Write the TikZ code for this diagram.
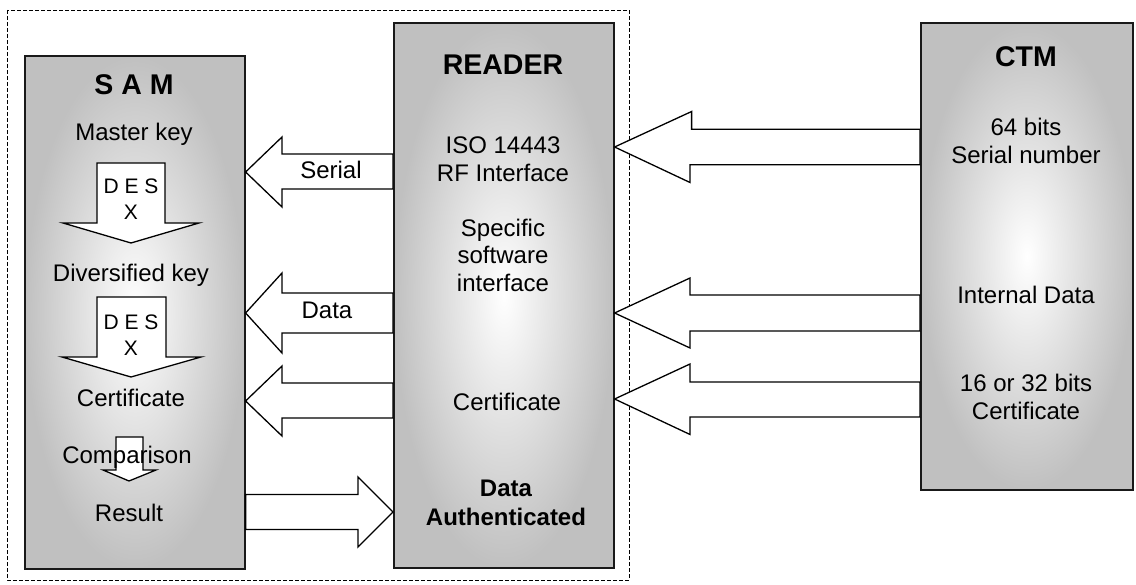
\documentclass[tikz,border=0pt]{standalone}
\usepackage{fontspec}
\setmainfont{Liberation Sans}
\usetikzlibrary{calc}
\definecolor{boxgray}{RGB}{192,192,192}
\tikzset{
  unit/.style={rectangle, draw=black!90, line width=1.6pt, inner color=white, outer color=boxgray, anchor=north west},
  ttl/.style={font=\fontsize{28.5}{32}\selectfont\bfseries, align=center, inner sep=0pt},
  txt/.style={font=\fontsize{24}{27.5}\selectfont, align=center, inner sep=0pt},
  dtxt/.style={font=\fontsize{21}{26}\selectfont, align=center, inner sep=0pt},
  btxt/.style={font=\fontsize{24}{29}\selectfont\bfseries, align=center, inner sep=0pt},
  blk/.style={draw=black, fill=white, line width=1.3pt, line join=miter},
  frame/.style={draw=black, line width=0.8pt, dash pattern=on 4pt off 2pt}
}
\begin{document}
\begin{tikzpicture}[x=1pt,y=-1pt]
\useasboundingbox (0,0) rectangle (1136,585);
% dashed enclosure
\draw[frame] (7,10) rectangle (629,580);
% units
\node[unit, minimum width=220pt, minimum height=513pt] (sam) at (24,55) {};
\node[unit, minimum width=220pt, minimum height=545pt] (reader) at (393,22) {};
\node[unit, minimum width=212pt, minimum height=467pt] (ctm) at (920,22) {};
% block arrows CTM -> READER
\coordinate (t1) at (reader.east |- 0,147);
\draw[blk] (t1) -- ++(77,-35.5) -- ++(0,17.75) -- (ctm.west |- 0,129.25) -- (ctm.west |- 0,164.75) -- (690,164.75) -- (690,182.5) -- cycle;
\coordinate (t2) at (reader.east |- 0,313);
\draw[blk] (t2) -- (690,278) -- (690,295) -- (ctm.west |- 0,295) -- (ctm.west |- 0,331) -- (690,331) -- (690,348) -- cycle;
\coordinate (t3) at (reader.east |- 0,399);
\draw[blk] (t3) -- (690,364) -- (690,382) -- (ctm.west |- 0,382) -- (ctm.west |- 0,417) -- (690,417) -- (690,434.5) -- cycle;
% block arrows READER -> SAM
\coordinate (s1) at (sam.east |- 0,172);
\draw[blk] (s1) -- (282,137) -- (282,154) -- (reader.west |- 0,154) -- (reader.west |- 0,189) -- (282,189) -- (282,207) -- cycle;
\coordinate (s2) at (sam.east |- 0,313);
\draw[blk] (s2) -- (282,273) -- (282,293) -- (reader.west |- 0,293) -- (reader.west |- 0,333) -- (282,333) -- (282,353) -- cycle;
\coordinate (s3) at (sam.east |- 0,401);
\draw[blk] (s3) -- (282,366) -- (282,383) -- (reader.west |- 0,383) -- (reader.west |- 0,418) -- (282,418) -- (282,436) -- cycle;
% SAM -> READER result
\coordinate (r1) at (reader.west |- 0,512);
\draw[blk] (r1) -- (358,547) -- (358,529.5) -- (sam.east |- 0,529.5) -- (sam.east |- 0,494.5) -- (358,494.5) -- (358,477) -- cycle;
% arrows inside SAM
\draw[blk] (97,163) -- (165,163) -- (165,223) -- (199,223) -- (131,243) -- (63,223) -- (97,223) -- cycle;
\draw[blk] (97,297) -- (166,297) -- (166,357) -- (201,357) -- (131,377) -- (62,357) -- (97,357) -- cycle;
\draw[blk] (116,437) -- (143,437) -- (143,470) -- (156,470) -- (129,481) -- (103,470) -- (116,470) -- cycle;
% SAM texts
\node[ttl] (samt) at (134,85) {S A M};
\node[txt] (mk) at (134,134) {Master key};
\node[dtxt] (des1) at (131,199) {D E S\\X};
\node[txt] (dk) at (131,275) {Diversified key};
\node[dtxt] (des2) at (131,335) {D E S\\X};
\node[txt] (sc) at (131,398) {Certificate};
\node[txt] (cmp) at (127,457) {Comparison};
\node[txt] (res) at (129,513) {Result};
% arrow labels
\node[txt] (lser) at (331,170) {Serial};
\node[txt] (ldat) at (327,310) {Data};
% READER texts
\node[ttl] (rdt) at (503,65) {READER};
\node[txt] (iso) at (503,159) {ISO 14443\\RF Interface};
\node[txt] (ssi) at (503,255) {Specific\\software\\interface};
\node[txt] (rc) at (507,402) {Certificate};
\node[btxt] (da) at (506,503) {Data\\Authenticated};
% CTM texts
\node[ttl] (ctmt) at (1026,57) {CTM};
\node[txt] (sn) at (1026,141) {64 bits\\Serial number};
\node[txt] (id) at (1026,295) {Internal Data};
\node[txt] (cc) at (1026,397) {16 or 32 bits\\Certificate};
\end{tikzpicture}
\end{document}
